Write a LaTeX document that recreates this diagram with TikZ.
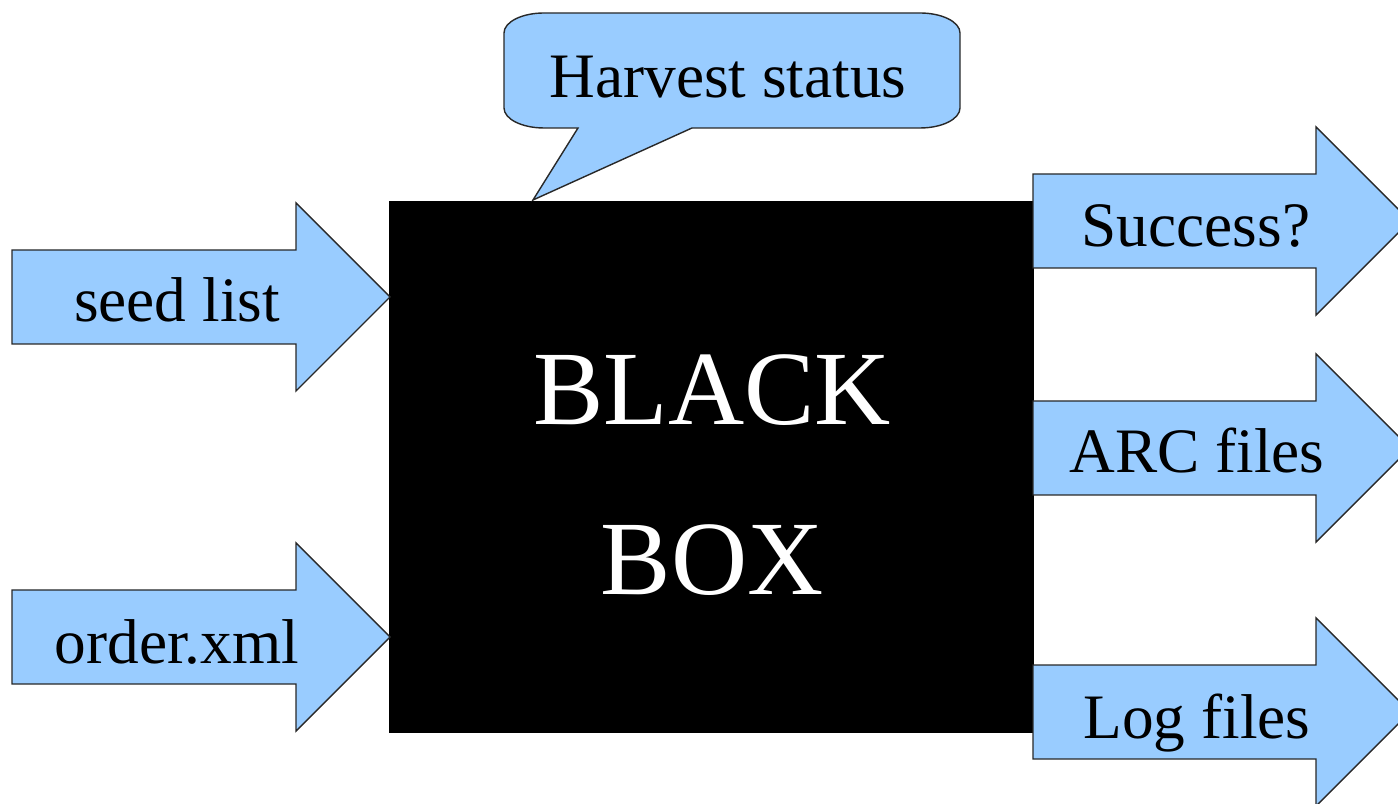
\documentclass[tikz,border=0pt]{standalone}
\usepackage{fontspec}
\setmainfont{Liberation Serif}
\usepackage{xcolor}
\usetikzlibrary{positioning}
\definecolor{arrowblue}{RGB}{153,204,255}
\definecolor{edgegray}{RGB}{40,40,40}

\begin{document}
\begin{tikzpicture}[
    x=0.01cm, y=-0.01cm,
    fatarrow/.style={draw=edgegray, fill=arrowblue, line width=0.4pt, line join=miter},
    bubble/.style={draw=edgegray, fill=arrowblue, line width=0.4pt},
    blackbox/.style={rectangle, draw=black, fill=black, inner sep=0pt, minimum width=6.43cm, minimum height=5.30cm},
    boxtext/.style={align=center, text=white, inner sep=0pt, font=\fontsize{30}{48.4}\selectfont},
    label/.style={anchor=base, inner sep=0pt, font=\fontsize{18}{21.6}\selectfont}
]
\useasboundingbox (0,0) rectangle (1398,804);

% The box itself
\node[blackbox] (box) at (711.5,467) {};
\node[boxtext] (boxlabel) at (712,475) {BLACK\\BOX};

% ============ Inputs ============

% seed list
\draw[fatarrow] (12,250) -- ++(284,0) -- ++(0,-47) -- ++(94,94) -- ++(-94,94) -- ++(0,-47) -- ++(-284,0) -- cycle;
\node[label] (seedlist) at (177,322) {seed list};

% order.xml
\draw[fatarrow] (12,590) -- ++(284,0) -- ++(0,-47) -- ++(94,94) -- ++(-94,94) -- ++(0,-47) -- ++(-284,0) -- cycle;
\node[label] (orderxml) at (177,663) {order.xml};

% ============ Outputs ============

% Success?
\draw[fatarrow] (1033,174) -- ++(283,0) -- ++(0,-47) -- ++(94,94) -- ++(-94,94) -- ++(0,-47) -- ++(-283,0) -- cycle;
\node[label] (success) at (1196,247) {Success?};

% ARC files
\draw[fatarrow] (1033,401) -- ++(283,0) -- ++(0,-47) -- ++(94,94) -- ++(-94,94) -- ++(0,-47) -- ++(-283,0) -- cycle;
\node[label] (arcfiles) at (1197,473) {ARC files};

% Log files
\draw[fatarrow] (1033,665) -- ++(283,0) -- ++(0,-47) -- ++(94,94) -- ++(-94,94) -- ++(0,-47) -- ++(-283,0) -- cycle;
\node[label] (logfiles) at (1197,738) {Log files};

% ============ Status callout ============
\draw[bubble] (504,33) arc[start angle=180, end angle=270, x radius=40, y radius=20]
    -- (920,13) arc[start angle=270, end angle=360, x radius=40, y radius=20]
    -- (960,108) arc[start angle=0, end angle=90, x radius=40, y radius=20]
    -- (692,128) -- (533,200) -- (578,128)
    -- (544,128) arc[start angle=90, end angle=180, x radius=40, y radius=20]
    -- cycle;
\node[label] (harvest) at (728,98) {Harvest status};

\end{tikzpicture}
\end{document}
